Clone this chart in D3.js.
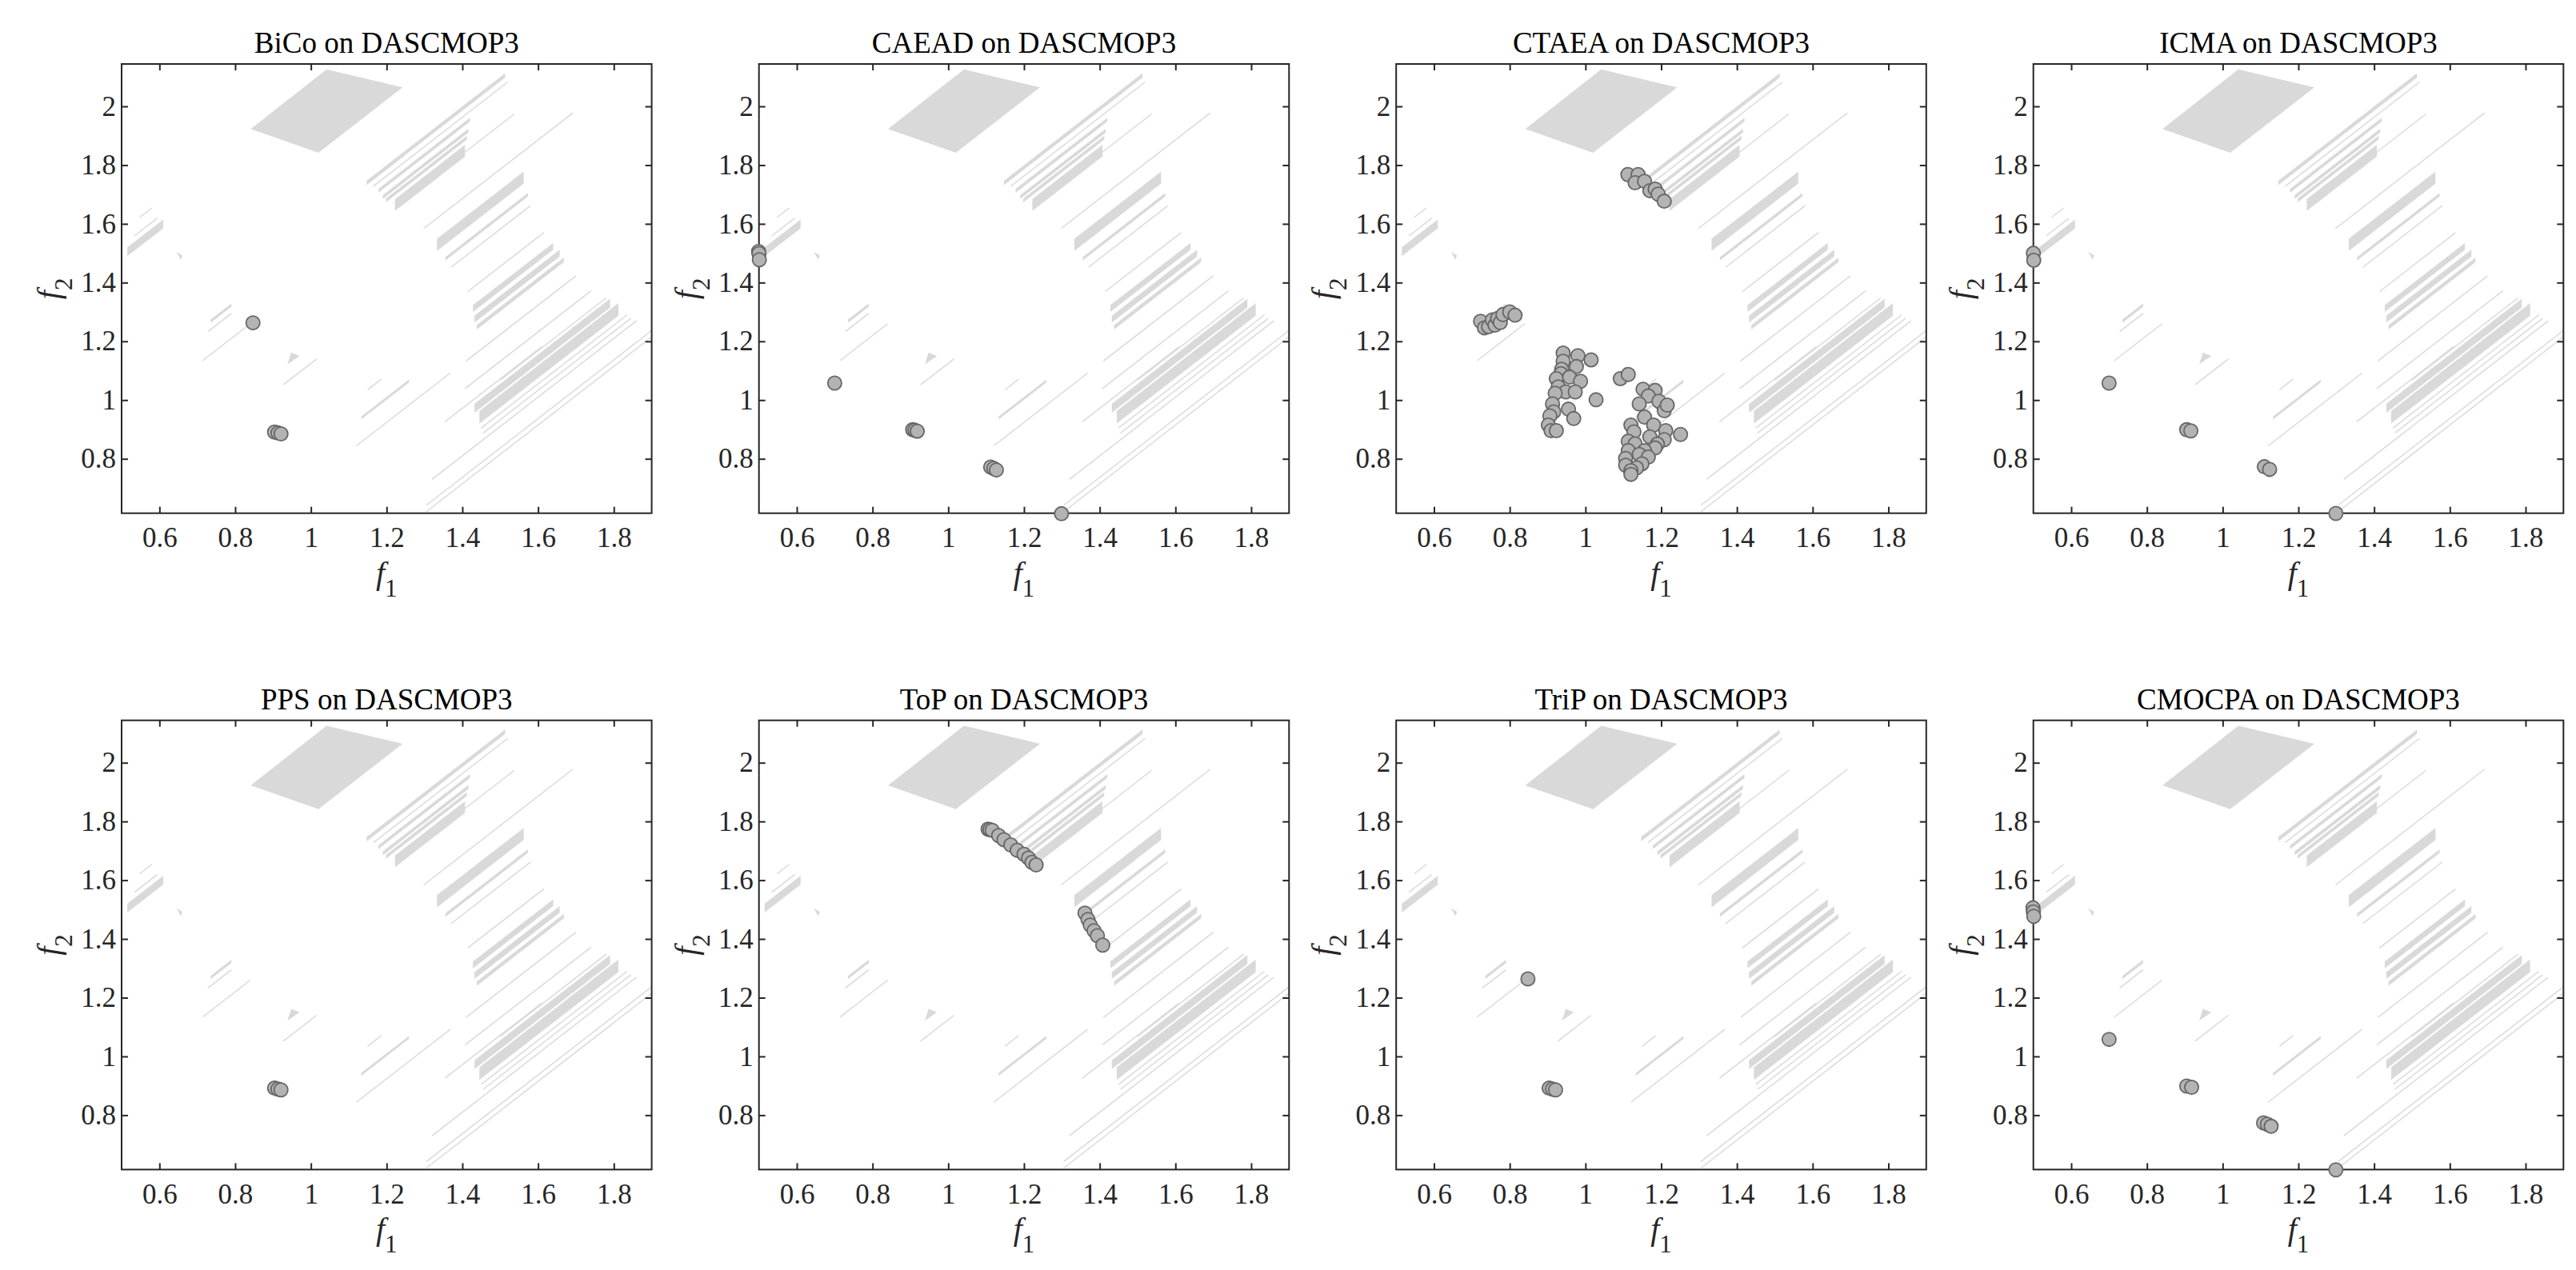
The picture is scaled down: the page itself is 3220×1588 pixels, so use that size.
<!DOCTYPE html>
<html>
<head>
<meta charset="utf-8">
<script src="https://cdn.jsdelivr.net/npm/d3@7"></script>
<style>
  body { margin: 0; background: #fff; }
  text { font-family: "Liberation Serif", "Tinos", "Times New Roman", "Nimbus Roman", "DejaVu Serif", serif; }
</style>
</head>
<body>
<div id="chart"></div>
<script>
// ---- data ----
const problem = "DASCMOP3";
const algorithms = ["BiCo", "CAEAD", "CTAEA", "ICMA", "PPS", "ToP", "TriP", "CMOCPA"];

const xDomain = [0.5, 1.9];
const yDomain = [0.6148, 2.1443];
const xTicks = [0.6, 0.8, 1, 1.2, 1.4, 1.6, 1.8];
const xTickLabels = ["0.6", "0.8", "1", "1.2", "1.4", "1.6", "1.8"];
const yTicks = [0.8, 1, 1.2, 1.4, 1.6, 1.8, 2];
const yTickLabels = ["0.8", "1", "1.2", "1.4", "1.6", "1.8", "2"];

// feasible region of DASCMOP3 (grey), in objective space
// block polygon [f1, f2]
const feasibleBlock = [[0.841, 1.923], [1.0415, 2.126], [1.2423, 2.0645], [1.020, 1.842]];
const feasibleTriangle = [[0.948, 1.162], [0.970, 1.150], [0.938, 1.122]];
const feasibleSpeck = [[0.645, 1.505], [0.656, 1.478], [0.661, 1.492]];
// bands between f2 = f1 + c0 and f2 = f1 + c1, for f1 in [a, b]:  [c0, c1, a, b]
const feasibleBands = [
  [0.975, 1.005, 0.515, 0.610],
  [0.528, 0.539, 0.735, 0.790],
  [0.585, 0.600, 1.147, 1.513],
  [0.528, 0.541, 1.178, 1.420],
  [0.495, 0.508, 1.190, 1.416],
  [0.475, 0.488, 1.198, 1.412],
  [0.422, 0.462, 1.222, 1.407],
  [0.175, 0.216, 1.333, 1.562],
  [0.120, 0.132, 1.355, 1.573],
  [-0.128, -0.105, 1.428, 1.640],
  [-0.168, -0.145, 1.432, 1.657],
  [-0.198, -0.183, 1.438, 1.668],
  [-0.199, -0.189, 1.133, 1.259],
  [-0.475, -0.445, 1.432, 1.790],
  [-0.525, -0.482, 1.445, 1.812]
];
// thin feasible lines f2 = f1 + c, f1 in [a, b]:  [c, a, b]
const feasibleLines = [
  [1.074, 0.548, 0.580],
  [1.025, 0.534, 0.594],
  [0.505, 0.728, 0.790],
  [0.420, 0.714, 0.840],
  [0.125, 0.927, 1.015],
  [0.563, 1.165, 1.520],
  [0.437, 1.405, 1.537],
  [0.286, 1.298, 1.692],
  [0.082, 1.370, 1.580],
  [-0.045, 1.414, 1.615],
  [-0.115, 1.150, 1.186],
  [-0.276, 1.120, 1.368],
  [-0.277, 1.410, 1.700],
  [-0.368, 1.407, 1.740],
  [-0.428, 1.354, 1.610],
  [-0.432, 1.500, 1.780],
  [-0.545, 1.450, 1.835],
  [-0.567, 1.455, 1.845],
  [-0.590, 1.320, 1.860],
  [-0.663, 1.305, 1.900],
  [-0.685, 1.305, 1.900]
];

// final populations [f1, f2]
const bicoPoints = [[0.847, 1.263], [0.904, 0.891], [0.913, 0.888], [0.921, 0.885]];
const caeadPoints = [[0.499, 1.506], [0.500, 1.499], [0.501, 1.478], [0.700, 1.058],
  [0.906, 0.899], [0.912, 0.897], [0.918, 0.894], [1.112, 0.772], [1.120, 0.767], [1.127, 0.762], [1.299, 0.613]];
const ctaeaPoints = [
  [1.112, 1.768], [1.139, 1.768], [1.131, 1.740], [1.156, 1.745], [1.170, 1.713],
  [1.184, 1.718], [1.192, 1.701], [1.208, 1.677],
  [0.723, 1.268], [0.733, 1.246], [0.744, 1.250], [0.754, 1.273], [0.761, 1.255],
  [0.768, 1.278], [0.775, 1.264], [0.782, 1.291], [0.800, 1.300], [0.814, 1.289],
  [0.941, 1.160], [0.941, 1.132], [0.980, 1.151], [1.015, 1.137], [0.937, 1.105],
  [0.976, 1.114], [0.935, 1.090], [0.923, 1.073], [0.958, 1.078], [0.987, 1.064],
  [0.928, 1.045], [0.948, 1.028], [0.920, 1.023], [0.973, 1.028], [0.913, 0.987],
  [0.916, 0.960], [0.955, 0.969], [0.969, 0.937], [0.906, 0.946], [0.902, 0.915],
  [0.909, 0.896], [0.923, 0.896], [1.028, 1.001],
  [1.092, 1.073], [1.113, 1.087],
  [1.152, 1.037], [1.184, 1.033], [1.166, 1.014], [1.142, 0.987], [1.194, 0.996],
  [1.208, 0.964], [1.216, 0.983], [1.156, 0.942], [1.180, 0.915], [1.120, 0.915],
  [1.128, 0.892], [1.212, 0.896], [1.251, 0.883], [1.208, 0.865], [1.170, 0.875],
  [1.113, 0.860], [1.131, 0.851], [1.190, 0.850], [1.184, 0.837], [1.113, 0.828],
  [1.156, 0.828], [1.142, 0.815], [1.166, 0.806], [1.106, 0.801], [1.106, 0.778],
  [1.149, 0.783], [1.135, 0.769], [1.120, 0.760], [1.120, 0.747]
];
const icmaPoints = [[0.500, 1.500], [0.501, 1.476], [0.700, 1.058], [0.905, 0.899],
  [0.916, 0.895], [1.110, 0.773], [1.124, 0.764], [1.299, 0.614]];
const ppsPoints = [[0.904, 0.892], [0.913, 0.889], [0.921, 0.886]];
const topPoints = [
  [1.105, 1.774], [1.110, 1.772], [1.116, 1.770], [1.133, 1.752], [1.147, 1.738],
  [1.165, 1.720], [1.182, 1.702], [1.200, 1.688], [1.212, 1.675], [1.221, 1.661], [1.232, 1.652],
  [1.361, 1.488], [1.369, 1.466], [1.375, 1.447], [1.385, 1.428], [1.394, 1.411], [1.408, 1.379]
];
const tripPoints = [[0.848, 1.264], [0.904, 0.892], [0.913, 0.889], [0.921, 0.886]];
const cmocpaPoints = [[0.499, 1.506], [0.500, 1.492], [0.501, 1.477], [0.700, 1.058],
  [0.905, 0.899], [0.918, 0.895], [1.108, 0.774], [1.118, 0.769], [1.128, 0.762], [1.299, 0.614]];

const populations = [bicoPoints, caeadPoints, ctaeaPoints, icmaPoints,
  ppsPoints, topPoints, tripPoints, cmocpaPoints];

// ---- layout ----
const W = 662.6, H = 561.7;
const colX = [152, 948.7, 1745.2, 2541.7];
const rowY = [80, 900.7];
const axisColor = "#262626";
const regionColor = "#d9d9d9";
const serifFont = '"Liberation Serif", "Tinos", "Times New Roman", "Nimbus Roman", "DejaVu Serif", serif';

const svg = d3.select("#chart").append("svg")
  .attr("width", 3220)
  .attr("height", 1588)
  .style("font-family", serifFont);

svg.append("defs").append("clipPath")
  .attr("id", "plotClip")
  .append("rect")
  .attr("width", W)
  .attr("height", H);

const x = d3.scaleLinear().domain(xDomain).range([0, W]);
const y = d3.scaleLinear().domain(yDomain).range([H, 0]);
const path = d3.line().x(d => x(d[0])).y(d => y(d[1]));

function bandPolygon(b) {
  const [c0, c1, a, e] = b;
  return [[a, a + c0], [e, e + c0], [e, e + c1], [a, a + c1]];
}

algorithms.forEach((name, i) => {
  const g = svg.append("g")
    .attr("transform", "translate(" + colX[i % 4] + "," + rowY[Math.floor(i / 4)] + ")");

  // feasible region
  const bg = g.append("g").attr("clip-path", "url(#plotClip)");
  bg.selectAll("path.block")
    .data([feasibleBlock, feasibleTriangle, feasibleSpeck])
    .join("path")
    .attr("class", "block")
    .attr("d", d => path(d) + "Z")
    .attr("fill", regionColor);
  bg.selectAll("path.band")
    .data(feasibleBands)
    .join("path")
    .attr("class", "band")
    .attr("d", d => path(bandPolygon(d)) + "Z")
    .attr("fill", regionColor);
  bg.selectAll("path.thin")
    .data(feasibleLines)
    .join("path")
    .attr("class", "thin")
    .attr("d", d => path([[d[1], d[1] + d[0]], [d[2], d[2] + d[0]]]))
    .attr("fill", "none")
    .attr("stroke", regionColor)
    .attr("stroke-width", 1.4);

  // axes, ticks inside on all four sides
  const bottom = g.append("g")
    .attr("transform", "translate(0," + H + ")")
    .call(d3.axisBottom(x).tickValues(xTicks).tickFormat((d, k) => xTickLabels[k])
      .tickSize(-8).tickSizeOuter(0).tickPadding(17.5));
  const left = g.append("g")
    .call(d3.axisLeft(y).tickValues(yTicks).tickFormat((d, k) => yTickLabels[k])
      .tickSize(-8).tickSizeOuter(0).tickPadding(7));
  const top = g.append("g")
    .call(d3.axisTop(x).tickValues(xTicks).tickFormat("").tickSize(-8).tickSizeOuter(0));
  const right = g.append("g")
    .attr("transform", "translate(" + W + ",0)")
    .call(d3.axisRight(y).tickValues(yTicks).tickFormat("").tickSize(-8).tickSizeOuter(0));

  [bottom, left, top, right].forEach(a => {
    a.attr("font-family", null).attr("font-size", null);
    a.select(".domain").remove();
    a.selectAll("line").attr("stroke", axisColor).attr("stroke-width", 2);
    a.selectAll("text")
      .attr("fill", axisColor)
      .style("font-family", serifFont)
      .style("font-size", "35px");
  });

  g.append("rect")
    .attr("width", W)
    .attr("height", H)
    .attr("fill", "none")
    .attr("stroke", axisColor)
    .attr("stroke-width", 2);

  // title
  g.append("text")
    .attr("x", W / 2)
    .attr("y", -14)
    .attr("text-anchor", "middle")
    .style("font-family", serifFont)
    .style("font-size", "37px")
    .attr("fill", "#000")
    .text(name + " on " + problem);

  // axis labels
  const xl = g.append("text")
    .attr("x", W / 2)
    .attr("y", H + 88)
    .attr("text-anchor", "middle")
    .attr("fill", axisColor)
    .style("font-family", serifFont)
    .style("font-size", "40px");
  xl.append("tspan").style("font-style", "italic").text("f");
  xl.append("tspan").attr("dy", 16).style("font-size", "31px").text("1");

  const yl = g.append("text")
    .attr("transform", "translate(-78," + (H / 2) + ") rotate(-90)")
    .attr("text-anchor", "middle")
    .attr("fill", axisColor)
    .style("font-family", serifFont)
    .style("font-size", "40px");
  yl.append("tspan").style("font-style", "italic").text("f");
  yl.append("tspan").attr("dy", 16).style("font-size", "31px").text("2");

  // population
  g.selectAll("circle")
    .data(populations[i])
    .join("circle")
    .attr("cx", d => x(d[0]))
    .attr("cy", d => y(d[1]))
    .attr("r", 8.6)
    .attr("fill", "#b3b3b3")
    .attr("stroke", "#666666")
    .attr("stroke-width", 1.8);
});
</script>
</body>
</html>
